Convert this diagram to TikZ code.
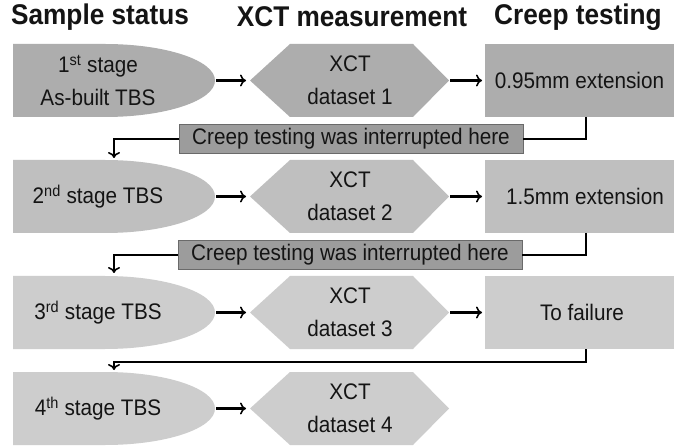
\documentclass[tikz,border=0pt]{standalone}
\usepackage{fontspec}
\setmainfont{Liberation Sans}[FakeStretch=0.92]
\usetikzlibrary{arrows.meta}
\definecolor{rowA}{HTML}{ADADAD}
\definecolor{rowB}{HTML}{BFBFBF}
\definecolor{rowC}{HTML}{CDCDCD}
\definecolor{banfill}{HTML}{9C9C9C}
\definecolor{banedge}{HTML}{6A6A6A}
\definecolor{ink}{HTML}{141414}
\newcommand\stagebg[2]{%
  \fill[#2] (13,#1) -- (105,#1) .. controls (165.75,#1) and (215,#1+16.34) .. (215,#1+36.5)
     .. controls (215,#1+56.66) and (165.75,#1+73) .. (105,#1+73) -- (13,#1+73) -- cycle;
  \fill[#2] (250,#1+36.5) -- (290,#1) -- (413,#1) -- (449,#1+36.5) -- (413,#1+73) -- (290,#1+73) -- cycle;
}
\begin{document}
\begin{tikzpicture}[x=1bp,y=-1bp,
  body/.style={font=\fontsize{22.5bp}{33bp}\selectfont, text=ink, align=center, inner sep=0pt},
  head/.style={font=\fontsize{28.5bp}{32bp}\selectfont\bfseries, text=ink, inner sep=0pt},
  hold/.style={minimum height=73bp, inner sep=0pt, outer sep=0pt},
  banner/.style={body, fill=banfill, draw=banedge, line width=0.8bp, minimum width=344bp, minimum height=29bp},
  conn/.style={line width=2.6bp, -{To[length=6bp,width=12bp,line width=1.6bp]}},
  link/.style={line width=2.6bp},
]
\useasboundingbox[fill=white] (0,0) rectangle (674,447);

% headers
\node[head] (h1) at (100,17) {Sample status};
\node[head] (h2) at (352,17) {XCT measurement};
\node[head] (h3) at (578,17) {Creep testing};

% backgrounds
\stagebg{44}{rowA}
\stagebg{160}{rowB}
\stagebg{276}{rowC}
\stagebg{372}{rowC}

% holder nodes
\node[hold, minimum width=202bp] (s1) at (114,80.5) {};
\node[hold, minimum width=199bp] (x1) at (349.5,80.5) {};
\node[hold, minimum width=189bp, fill=rowA] (c1) at (579.5,80.5) {};
\node[hold, minimum width=202bp] (s2) at (114,196.5) {};
\node[hold, minimum width=199bp] (x2) at (349.5,196.5) {};
\node[hold, minimum width=189bp, fill=rowB] (c2) at (579.5,196.5) {};
\node[hold, minimum width=202bp] (s3) at (114,312.5) {};
\node[hold, minimum width=199bp] (x3) at (349.5,312.5) {};
\node[hold, minimum width=189bp, fill=rowC] (c3) at (579.5,312.5) {};
\node[hold, minimum width=202bp] (s4) at (114,408.5) {};
\node[hold, minimum width=199bp] (x4) at (349.5,408.5) {};

% texts
\node[body] (ts1) at (98,80.5) {1\textsuperscript{st} stage\\As-built TBS};
\node[body] (tx1) at (350,80.5) {XCT\\dataset 1};
\node[body] (tc1) at (579.5,80.5) {0.95mm extension};
\node[body] (ts2) at (98,196.5) {2\textsuperscript{nd} stage TBS};
\node[body] (tx2) at (350,196.5) {XCT\\dataset 2};
\node[body] (tc2) at (585,196.5) {1.5mm extension};
\node[body] (ts3) at (98,312.5) {3\textsuperscript{rd} stage TBS};
\node[body] (tx3) at (350,312.5) {XCT\\dataset 3};
\node[body] (tc3) at (582,312.5) {To failure};
\node[body] (ts4) at (98,408.5) {4\textsuperscript{th} stage TBS};
\node[body] (tx4) at (350,408.5) {XCT\\dataset 4};

% banners
\node[banner] (b1) at (351,139) {Creep testing was interrupted here};
\node[banner] (b2) at (350,255) {Creep testing was interrupted here};
\coordinate (k3) at (114,362);

% horizontal arrows
\draw[conn, shorten <=1bp, shorten >=4bp] (s1.east) -- (x1.west);
\draw[conn, shorten <=1bp, shorten >=3bp] (x1.east) -- (c1.west);
\draw[conn, shorten <=1bp, shorten >=4bp] (s2.east) -- (x2.west);
\draw[conn, shorten <=1bp, shorten >=3bp] (x2.east) -- (c2.west);
\draw[conn, shorten <=1bp, shorten >=4bp] (s3.east) -- (x3.west);
\draw[conn, shorten <=1bp, shorten >=3bp] (x3.east) -- (c3.west);
\draw[conn, shorten <=1bp, shorten >=4bp] (s4.east) -- (x4.west);

% return connectors
\draw[link] ([xshift=6.5bp]c1.south) |- (b1.east);
\draw[conn, shorten >=2bp] (b1.west) -| (s2.north);
\draw[link] ([xshift=6.5bp]c2.south) |- (b2.east);
\draw[conn, shorten >=3bp] (b2.west) -| (s3.north);
\draw[conn, shorten >=2bp] ([xshift=6.5bp]c3.south) |- (k3) -- (s4.north);
\end{tikzpicture}
\end{document}
